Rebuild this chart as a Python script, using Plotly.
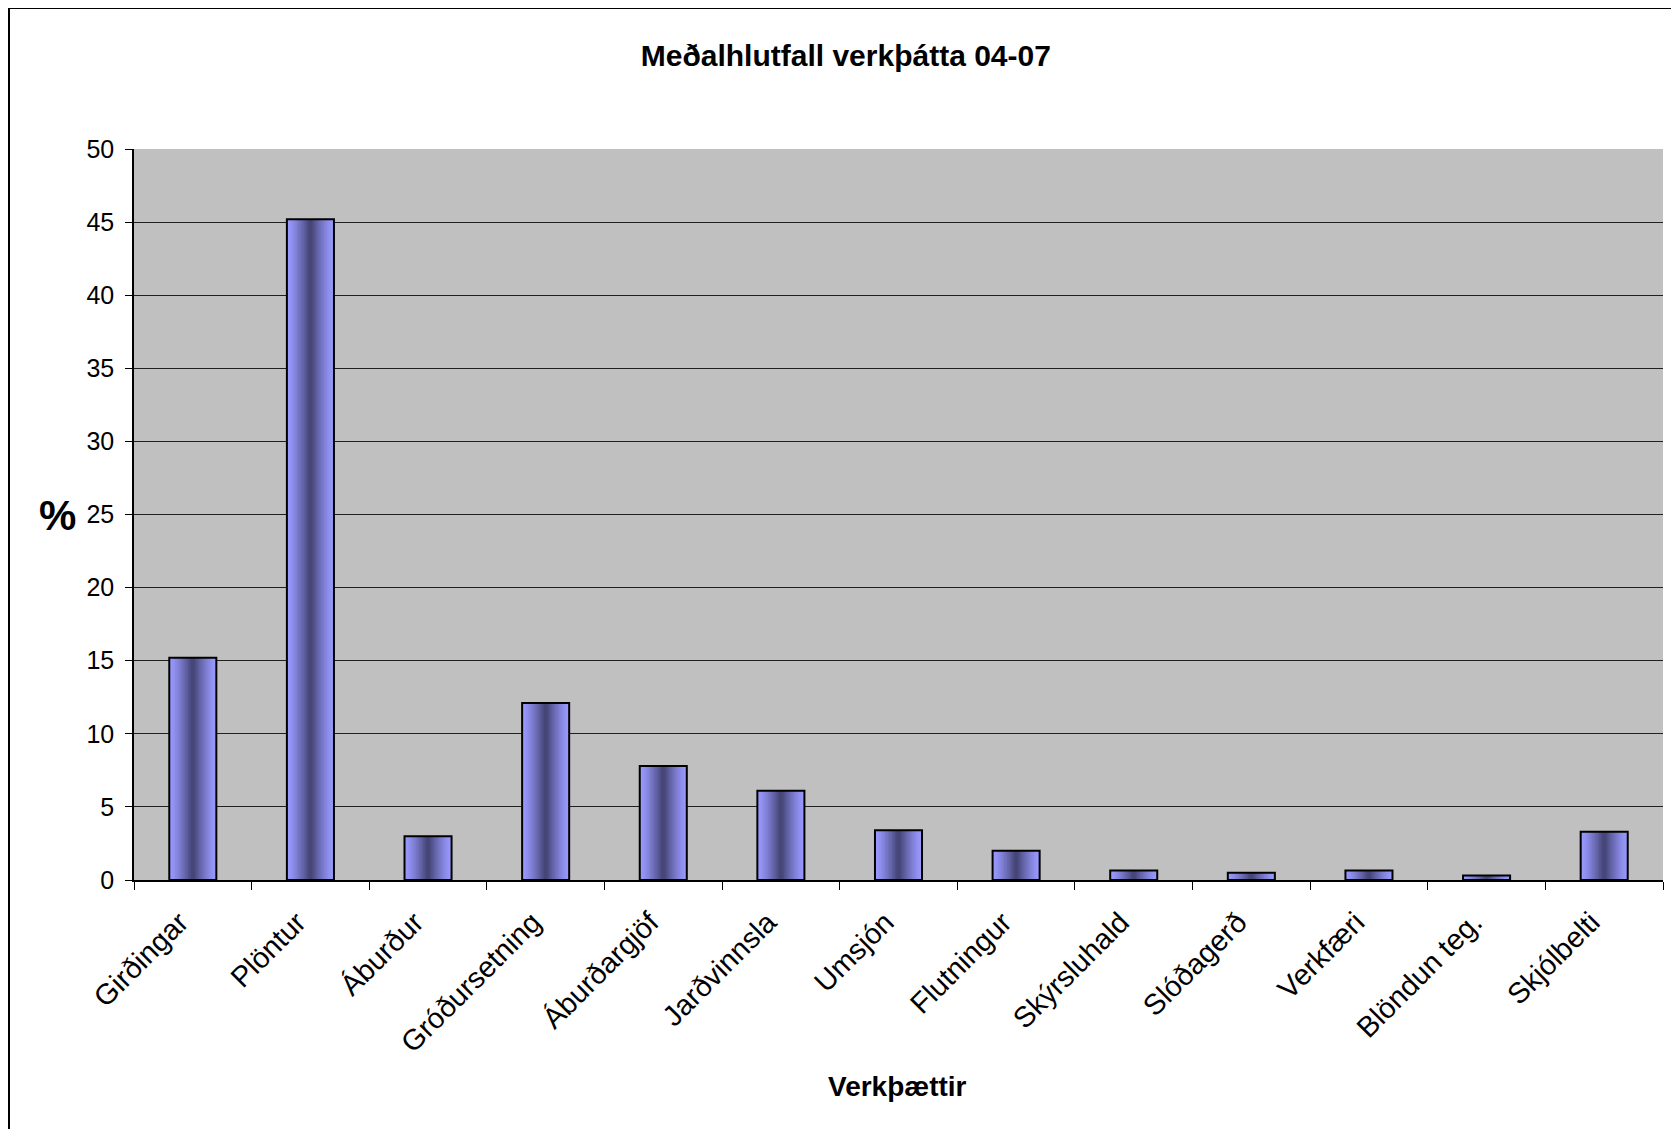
import plotly.graph_objects as go

categories = ["Girðingar", "Plöntur", "Áburður", "Gróðursetning", "Áburðargjöf",
              "Jarðvinnsla", "Umsjón", "Flutningur", "Skýrsluhald", "Slóðagerð",
              "Verkfæri", "Blöndun teg.", "Skjólbelti"]
values = [15.2, 45.2, 3.0, 12.1, 7.8, 6.1, 3.4, 2.0, 0.65, 0.5, 0.65, 0.3, 3.3]
y_ticks = [0, 5, 10, 15, 20, 25, 30, 35, 40, 45, 50]

title_text = "Meðalhlutfall verkþátta 04-07"
x_title = "Verkþættir"
y_title = "%"

FONT = "Liberation Sans, Arial, sans-serif"
BAR_W = 0.4

# gradient shading (cylinder look) built from nested overlaid bars
light = (153, 153, 255)
dark = (70, 70, 120)
n_layers = 16

fig = go.Figure()
for i in range(n_layers):
    t = i / (n_layers - 1)
    frac = 1.0 - 0.92 * t
    w = t ** 1.3
    c = tuple(int(round(light[k] + (dark[k] - light[k]) * w)) for k in range(3))
    fig.add_trace(go.Bar(
        x=categories, y=values,
        width=BAR_W * frac,
        marker=dict(color="rgb(%d,%d,%d)" % c, line=dict(width=0)),
        hoverinfo="skip" if i else None,
        showlegend=False,
    ))
# outline
fig.add_trace(go.Bar(
    x=categories, y=values, width=BAR_W,
    marker=dict(color="rgba(0,0,0,0)", line=dict(color="black", width=2)),
    showlegend=False, hoverinfo="skip",
))

W, H = 1679, 1129
L, R, T, B = 126, 24, 141, 257
pw, ph = W - L - R, H - T - B

def px(x):
    return (x - L) / pw

def py(y):
    return (H - B - y) / ph

fig.update_layout(
    width=W, height=H,
    barmode="overlay",
    paper_bgcolor="white",
    plot_bgcolor="#C0C0C0",
    margin=dict(l=L, r=R, t=T, b=B),
    font=dict(family=FONT, color="black"),
    title=dict(text="<b>" + title_text + "</b>", x=0.499, xref="container",
               xanchor="center", y=1 - 47 / H, yref="container", yanchor="middle",
               font=dict(size=30, family=FONT, color="black")),
    xaxis=dict(
        type="category",
        tickangle=-45,
        tickfont=dict(size=29, family=FONT, color="black"),
        ticks="outside", ticklen=8, tickcolor="black", tickwidth=1,
        tickson="boundaries",
        showline=True, linecolor="black", linewidth=1.5,
        showgrid=False,
        ticklabelstandoff=12,
        ticklabelshift=-13,
        range=[-0.5, len(categories) - 0.5],
    ),
    yaxis=dict(
        range=[0, 50],
        tickvals=y_ticks,
        tickfont=dict(size=25, family=FONT, color="black"),
        ticks="outside", ticklen=7, tickcolor="black", tickwidth=1,
        showline=True, linecolor="black", linewidth=1.5,
        showgrid=True, gridcolor="#202020", gridwidth=1,
        zeroline=False,
        ticklabelstandoff=6,
    ),
    annotations=[
        dict(text="<b>" + y_title + "</b>", xref="paper", yref="paper",
             x=px(49), y=py(507), showarrow=False, xanchor="center", yanchor="middle",
             font=dict(size=42, family=FONT, color="black")),
        dict(text="<b>" + x_title + "</b>", xref="paper", yref="paper",
             x=px(889), y=py(1078), showarrow=False, xanchor="center", yanchor="middle",
             font=dict(size=28, family=FONT, color="black")),
    ],
    shapes=[
        dict(type="rect", xref="paper", yref="paper",
             x0=px(1), x1=px(W + 20), y0=py(H + 20), y1=py(0),
             line=dict(color="black", width=2), fillcolor="rgba(0,0,0,0)", layer="below"),
    ],
)

fig.write_html("out.html")
